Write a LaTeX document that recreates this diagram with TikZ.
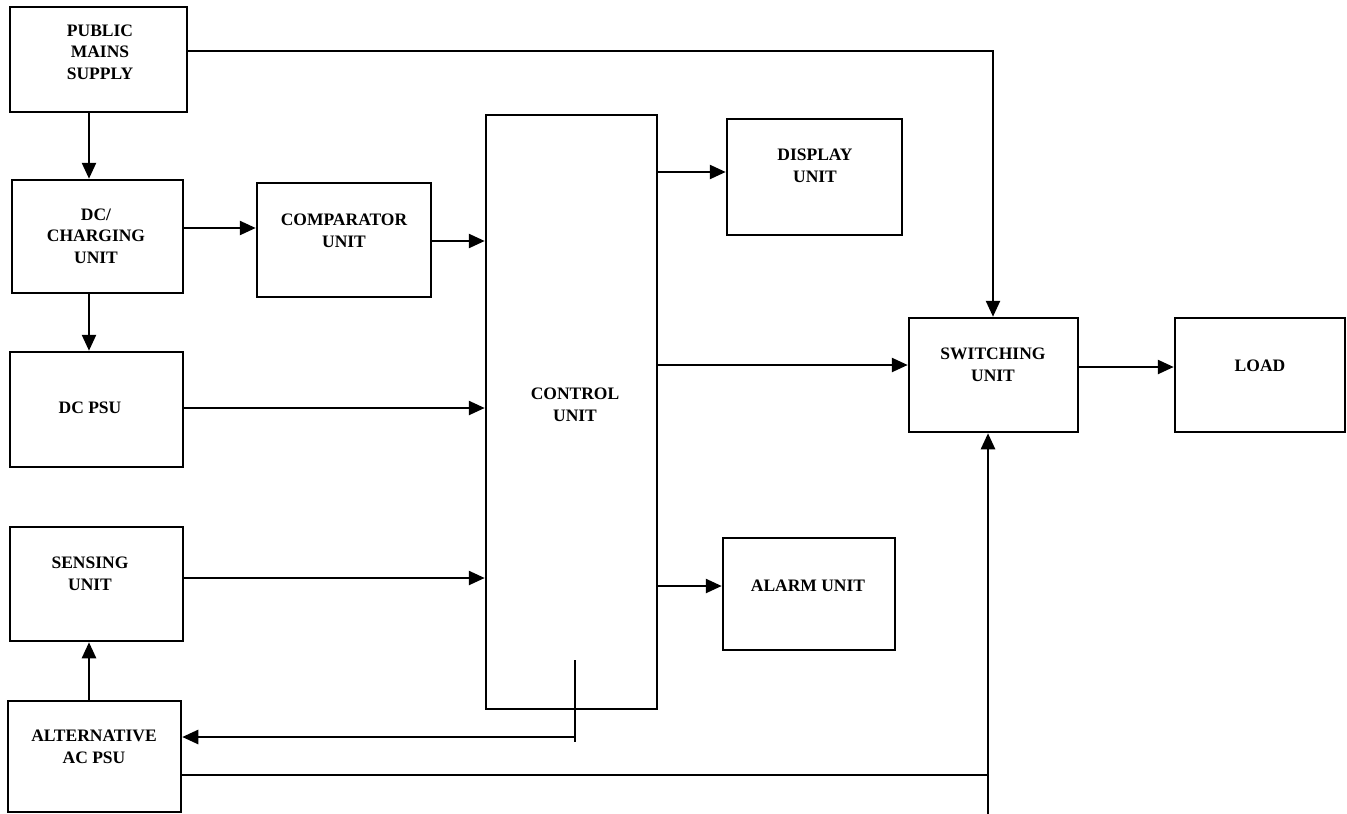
\documentclass[tikz,border=0pt]{standalone}
\usepackage{fontspec}
\setmainfont{Liberation Serif}
\usetikzlibrary{arrows.meta}
\begin{document}
\begin{tikzpicture}[x=1pt,y=-1pt,
  box/.style={draw, line width=2.5pt, inner sep=0pt},
  lbl/.style={font=\fontsize{17.5}{21.5}\selectfont\bfseries, align=center, inner sep=0pt},
  wire/.style={line width=2.5pt},
  arr/.style={wire, -{Triangle[length=16pt,width=14pt]}}]
\useasboundingbox (0,0) rectangle (1347,814);
% boxes
\node[box, minimum width=177pt, minimum height=105pt] (pms) at (98.5,59.5) {};
\node[box, minimum width=171pt, minimum height=113pt] (dcc) at (97.5,236.5) {};
\node[box, minimum width=174pt, minimum height=114pt] (cmp) at (344,240) {};
\node[box, minimum width=173pt, minimum height=115pt] (dcp) at (96.5,409.5) {};
\node[box, minimum width=173pt, minimum height=114pt] (sen) at (96.5,584) {};
\node[box, minimum width=173pt, minimum height=111pt] (alt) at (94.5,756.5) {};
\node[box, minimum width=171pt, minimum height=594pt] (ctl) at (571.5,412) {};
\node[box, minimum width=175pt, minimum height=116pt] (dsp) at (814.5,177) {};
\node[box, minimum width=172pt, minimum height=112pt] (alm) at (809,594) {};
\node[box, minimum width=169pt, minimum height=114pt] (sw) at (993.5,375) {};
\node[box, minimum width=170pt, minimum height=114pt] (load) at (1260,375) {};
% labels
\node[lbl] (pmsT) at (100,52) {PUBLIC\\MAINS\\SUPPLY};
\node[lbl] (dccT) at (96,236) {DC/\\CHARGING\\UNIT};
\node[lbl] (cmpT) at (344,231) {COMPARATOR\\UNIT};
\node[lbl] (dcpT) at (90,408) {DC PSU};
\node[lbl] (senT) at (90,574) {SENSING\\UNIT};
\node[lbl] (altT) at (94,747) {ALTERNATIVE\\AC PSU};
\node[lbl] (ctlT) at (575,405) {CONTROL\\UNIT};
\node[lbl] (dspT) at (815,166) {DISPLAY\\UNIT};
\node[lbl] (almT) at (808,586) {ALARM UNIT};
\node[lbl] (swT) at (993,365) {SWITCHING\\UNIT};
\node[lbl] (loadT) at (1260,366) {LOAD};
% helper coordinates
\coordinate (c1) at (993,51);
\coordinate (xa) at (89,0);
\coordinate (ya) at (0,228);
\coordinate (yb) at (0,241);
\coordinate (yc) at (0,408);
\coordinate (yd) at (0,578);
\coordinate (ye) at (0,172);
\coordinate (yf) at (0,365);
\coordinate (yg) at (0,586);
\coordinate (yh) at (0,367);
\coordinate (c3) at (575,660);
\coordinate (c4) at (575,742);
\coordinate (c5) at (575,737);
\coordinate (c6) at (988,775);
\coordinate (c7) at (988,814);
% connectors
\draw[arr] (pms.east |- c1) -- (c1) -- (c1 |- sw.north);
\draw[arr] (pms.south -| xa) -- (dcc.north -| xa);
\draw[arr] (dcc.south -| xa) -- (dcp.north -| xa);
\draw[arr] (dcc.east |- ya) -- (cmp.west |- ya);
\draw[arr] (cmp.east |- yb) -- (ctl.west |- yb);
\draw[arr] (dcp.east |- yc) -- (ctl.west |- yc);
\draw[arr] (sen.east |- yd) -- (ctl.west |- yd);
\draw[arr] (ctl.east |- ye) -- (dsp.west |- ye);
\draw[arr] (ctl.east |- yf) -- (sw.west |- yf);
\draw[arr] (ctl.east |- yg) -- (alm.west |- yg);
\draw[arr] (sw.east |- yh) -- (load.west |- yh);
\draw[arr] (alt.north -| xa) -- (sen.south -| xa);
\draw[wire] (c3) -- (c4);
\draw[arr] (c5) -- (alt.east |- c5);
\draw[wire] (alt.east |- c6) -- (c6);
\draw[arr] (c7) -- (c7 |- sw.south);
\end{tikzpicture}
\end{document}
